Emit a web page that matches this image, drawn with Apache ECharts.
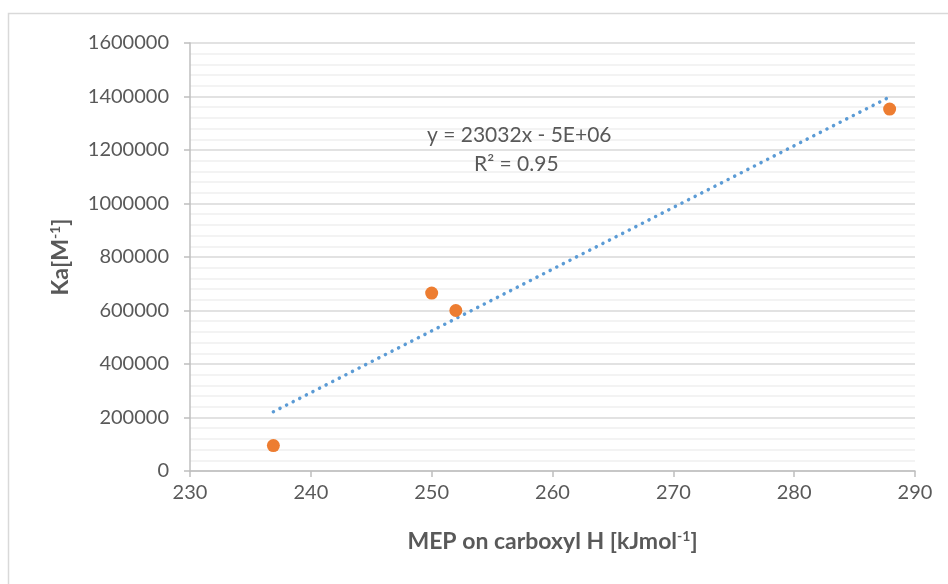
<!DOCTYPE html>
<html>
<head>
<meta charset="utf-8">
<title>Ka vs MEP</title>
<script src="https://cdn.jsdelivr.net/npm/echarts@6/dist/echarts.min.js"></script>
<style>
    html, body { margin: 0; padding: 0; background: #fff; }
    #main { width: 948px; height: 584px; }
</style>
</head>
<body>
<div id="main"></div>
<script>
    // data
    var mepValues = [236.9, 250, 252, 287.9];
    var kaValues = [95000, 665000, 600000, 1353000];
    var xTicks = [230, 240, 250, 260, 270, 280, 290];
    var yTicks = [0, 200000, 400000, 600000, 800000, 1000000, 1200000, 1400000, 1600000];
    var trendText = ['y = 23032x - 5E+06', 'R² = 0.95'];

    var points = [];
    for (var i = 0; i < mepValues.length; i++) {
        points.push([mepValues[i], kaValues[i]]);
    }

    // linear trendline (least squares) over the data range
    var n = mepValues.length, sx = 0, sy = 0, sxx = 0, sxy = 0;
    for (var j = 0; j < n; j++) {
        sx += mepValues[j];
        sy += kaValues[j];
        sxx += mepValues[j] * mepValues[j];
        sxy += mepValues[j] * kaValues[j];
    }
    var slope = (n * sxy - sx * sy) / (n * sxx - sx * sx);
    var icpt = (sy - slope * sx) / n;
    var xMin = Math.min.apply(null, mepValues);
    var xMax = Math.max.apply(null, mepValues);
    var trendLine = [[xMin, slope * xMin + icpt], [xMax, slope * xMax + icpt]];

    var font = 'Lato, "Open Sans", sans-serif';
    var textColor = '#595959';

    var nameRich = {
        t: { fontFamily: font, fontSize: 23, fontWeight: 'bold', color: textColor },
        s: { fontFamily: font, fontSize: 14, fontWeight: 'bold', color: textColor, padding: [0, 0, 12, 0] }
    };

    var chart = echarts.init(document.getElementById('main'));
    chart.setOption({
        animation: false,
        backgroundColor: '#fff',
        textStyle: { fontFamily: font },
        grid: { left: 190, right: 33, top: 43, bottom: 113 },
        xAxis: {
            type: 'value',
            min: xTicks[0],
            max: xTicks[xTicks.length - 1],
            interval: xTicks[1] - xTicks[0],
            name: '{t|MEP on carboxyl H [kJmol}{s|-1}{t|]}',
            nameLocation: 'middle',
            nameGap: 58,
            nameTextStyle: { rich: nameRich },
            axisLine: { lineStyle: { color: '#bfbfbf', width: 1.5 } },
            axisTick: { show: true, length: 6, lineStyle: { color: '#bfbfbf', width: 1.5 } },
            axisLabel: { color: textColor, fontSize: 20, margin: 12, fontFamily: font },
            splitLine: { show: false }
        },
        yAxis: {
            type: 'value',
            min: yTicks[0],
            max: yTicks[yTicks.length - 1],
            interval: yTicks[1] - yTicks[0],
            name: '{t|Ka[M}{s|-1}{t|]}',
            nameLocation: 'middle',
            nameGap: 116,
            nameRotate: 90,
            nameTextStyle: { rich: nameRich },
            axisLine: { show: true, lineStyle: { color: '#bfbfbf', width: 1.5 } },
            axisTick: { show: true, length: 6, lineStyle: { color: '#bfbfbf', width: 1.5 } },
            axisLabel: {
                color: textColor, fontSize: 20, margin: 21, fontFamily: font,
                formatter: function (v) { return String(v); }
            },
            splitLine: { show: true, lineStyle: { color: '#d9d9d9', width: 1.5 } },
            minorTick: { show: false, splitNumber: 5 },
            minorSplitLine: { show: true, lineStyle: { color: '#f0f0f0', width: 1.5 } }
        },
        series: [
            {
                name: 'trend',
                type: 'line',
                data: trendLine,
                symbol: 'none',
                silent: true,
                lineStyle: { color: '#5b9bd5', width: 3.5, type: [0.1, 7.3], cap: 'round' },
                z: 2
            },
            {
                name: 'Ka',
                type: 'scatter',
                data: points,
                symbolSize: 13,
                itemStyle: { color: '#ed7d31', opacity: 1 },
                z: 3
            }
        ],
        graphic: [
            {
                type: 'rect',
                shape: { x: 8.5, y: 13.5, width: 960, height: 600 },
                style: { fill: 'none', stroke: '#d9d9d9', lineWidth: 1.5 },
                silent: true
            },
            {
                type: 'text',
                left: 427,
                top: 125,
                z: 10,
                style: {
                    text: trendText[0], fontFamily: font, fontSize: 21,
                    fill: textColor, textBorderWidth: 0, textShadowBlur: 0
                }
            },
            {
                type: 'text',
                left: 474,
                top: 154,
                z: 10,
                style: {
                    text: trendText[1], fontFamily: font, fontSize: 21,
                    fill: textColor, textBorderWidth: 0, textShadowBlur: 0
                }
            }
        ]
    });
</script>
</body>
</html>
